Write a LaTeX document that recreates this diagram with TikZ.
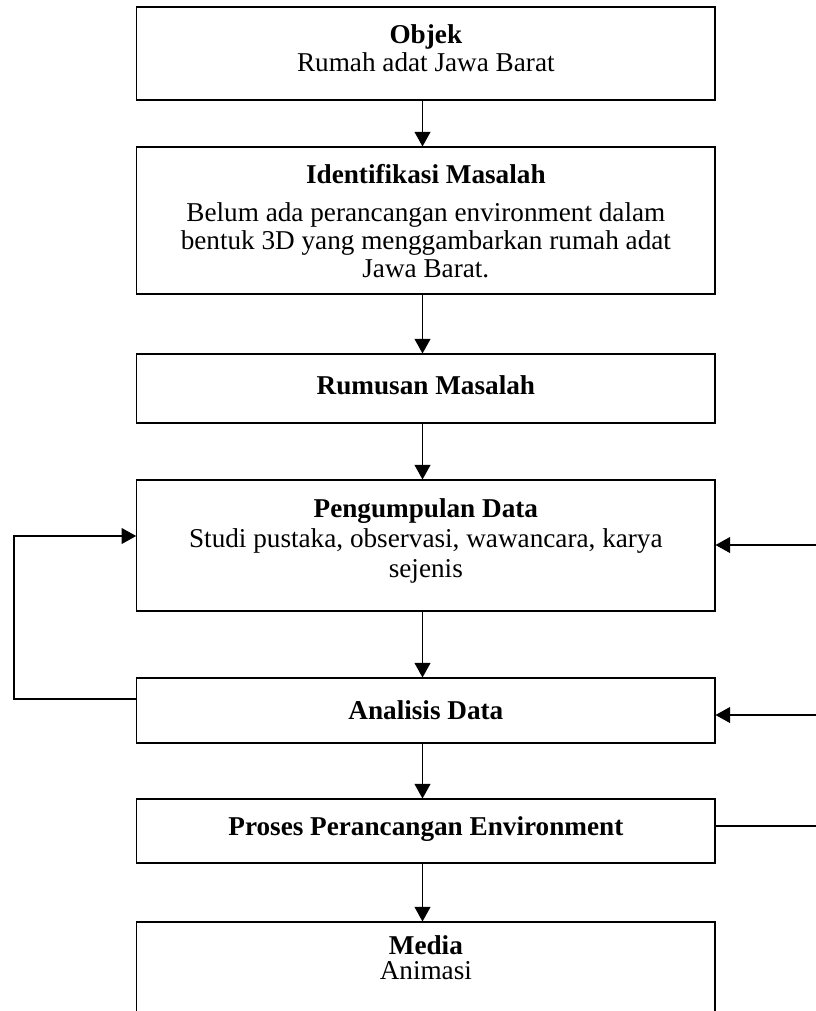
\documentclass[tikz,border=0pt]{standalone}
\usepackage{fontspec}
\setmainfont{Liberation Serif}
\usetikzlibrary{arrows.meta}
\begin{document}
\begin{tikzpicture}[x=0.75pt,y=-0.75pt,
 box/.style={draw, line width=0.8pt, minimum width=433.7pt, inner sep=0pt},
 txt/.style={align=center, font=\fontsize{20.4}{21}\selectfont, inner sep=0pt},
 arr/.style={line width=0.8pt, -{Triangle[width=12pt,length=11pt]}},
 ln/.style={line width=0.8pt}]
\useasboundingbox (0,0) rectangle (816,1011);
\clip (0,0) rectangle (816,1011);
% boxes
\node[box, minimum height=69.75pt] (b1) at (425.85,53.5) {};
\node[box, minimum height=110.25pt] (b2) at (425.85,220.5) {};
\node[box, minimum height=51.75pt] (b3) at (425.85,388.5) {};
\node[box, minimum height=98.25pt] (b4) at (425.85,545.5) {};
\node[box, minimum height=48.75pt] (b5) at (425.85,710.5) {};
\node[box, minimum height=48pt] (b6) at (425.85,831) {};
\node[box, minimum height=88.5pt] (b7) at (425.85,981) {};
% texts
\node[txt] (t1) at (425.85,48) {\textbf{Objek}\\[0pt]Rumah adat Jawa Barat};
\node[txt] (t2) at (425.85,221) {\textbf{Identifikasi Masalah}\\[7pt]Belum ada perancangan environment dalam\\bentuk 3D yang menggambarkan rumah adat\\Jawa Barat.};
\node[txt] (t3) at (425.85,385) {\textbf{Rumusan Masalah}};
\node[txt] (t4) at (425.85,541) {\textbf{Pengumpulan Data}\\[1.5pt]Studi pustaka, observasi, wawancara, karya\\[1pt]sejenis};
\node[txt] (t5) at (425.85,710) {\textbf{Analisis Data}};
\node[txt] (t6) at (425.85,829) {\textbf{Proses Perancangan Environment}};
\node[txt] (t7) at (425.85,957.5) {\textbf{Media}\\[-2.25pt]Animasi};
% connectors
\coordinate (ax) at (422.5,0);
\draw[arr] (b1.south -| ax) -- (b2.north -| ax);
\draw[arr] (b2.south -| ax) -- (b3.north -| ax);
\draw[arr] (b3.south -| ax) -- (b4.north -| ax);
\draw[arr] (b4.south -| ax) -- (b5.north -| ax);
\draw[arr] (b5.south -| ax) -- (b6.north -| ax);
\draw[arr] (b6.south -| ax) -- (b7.north -| ax);
% left loop
\coordinate (l1) at (14,699);
\coordinate (l2) at (14,536);
\draw[arr] (b5.west |- l1) -- (l1) -- (l2) -- (b4.west |- l2);
% right inputs
\coordinate (r1) at (816,545);
\coordinate (r2) at (816,715);
\coordinate (r3) at (816,826);
\draw[arr] (r1) -- (b4.east |- r1);
\draw[arr] (r2) -- (b5.east |- r2);
\draw[ln] (b6.east |- r3) -- (r3);
\end{tikzpicture}
\end{document}
